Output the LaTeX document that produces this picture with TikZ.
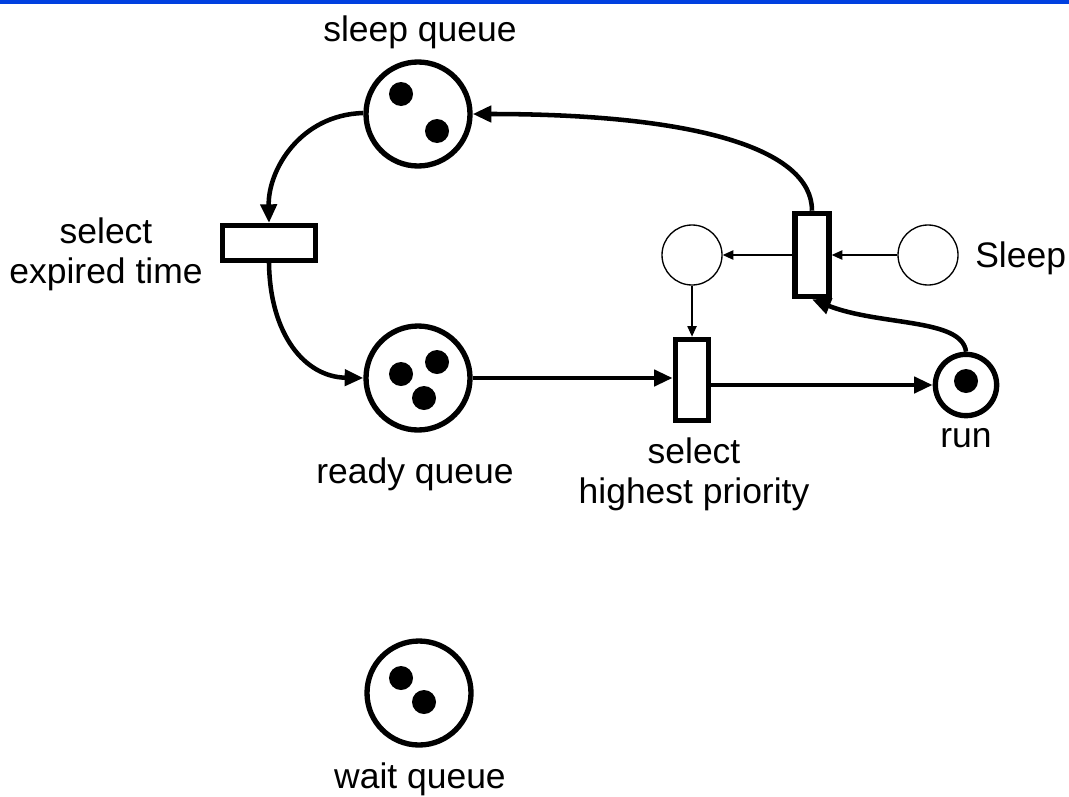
\documentclass[tikz,border=0pt]{standalone}
\usepackage{fontspec}
\setmainfont{Liberation Sans}
\usetikzlibrary{arrows.meta}
\definecolor{topblue}{RGB}{0,64,224}
\begin{document}
\begin{tikzpicture}[x=0.75pt,y=-0.75pt,
  place/.style={circle,draw,line width=4pt,minimum size=78pt,inner sep=0pt},
  smallplace/.style={circle,draw,line width=1pt,minimum size=45pt,inner sep=0pt},
  runplace/.style={circle,draw,line width=4pt,minimum size=46pt,inner sep=0pt},
  token/.style={circle,fill,minimum size=18pt,inner sep=0pt},
  trans/.style={rectangle,draw,line width=4pt,inner sep=0pt},
  lbl/.style={font=\fontsize{26.6pt}{30pt}\selectfont,align=center,inner sep=0pt},
  thick arc/.style={line width=3.4pt,-{Triangle[length=14pt,width=12pt]}},
  thin arc/.style={line width=1pt,-{Triangle[length=8pt,width=7pt]}}
]
\useasboundingbox (0,0) rectangle (1069,796);
\fill[topblue] (0,0) rectangle (1069,3.5);

% places
\node[place] (sq) at (418,114) {};
\node[token] (sq1) at (401,94) {};
\node[token] (sq2) at (437,131) {};
\node[place] (rq) at (418,378) {};
\node[token] (rq1) at (401,374) {};
\node[token] (rq2) at (437,362) {};
\node[token] (rq3) at (424,398) {};
\node[place] (wq) at (419,693) {};
\node[token] (wq1) at (401,678) {};
\node[token] (wq2) at (424,702) {};
\node[runplace] (run) at (966,385) {};
\node[token] (run1) at (966,381) {};
\node[smallplace] (sp) at (692,255) {};
\node[smallplace] (sl) at (928,255) {};

% transitions
\node[trans,minimum width=70pt,minimum height=26pt] (te) at (269,243) {};
\node[trans,minimum width=25pt,minimum height=61pt] (th) at (692,380) {};
\node[trans,minimum width=25.5pt,minimum height=62.5pt] (ts) at (812,255) {};

% labels
\node[lbl] (lsq) at (420,32) {sleep queue};
\node[lbl] (lte) at (106,254) {select\\expired time};
\node[lbl] (lrq) at (415,474) {ready queue};
\node[lbl] (lth) at (694,474) {select\\highest priority};
\node[lbl] (lrun) at (966,438) {run};
\node[lbl] (lwq) at (420,779) {wait queue};
\node[lbl,anchor=west] (lsl) at (975,258) {Sleep};

% arcs
\coordinate (a1) at (363,113);
\draw[thick arc] (a1) .. controls (300,115) and (268,170) .. (te.north);
\draw[thick arc] (te.south) .. controls (270,335) and (305,377) .. (rq.west);
\draw[thick arc] (rq.east) -- (rq.east -| th.west);
\draw[thick arc] (th.east |- run.west) -- (run.west);
\draw[thick arc] (ts.north) .. controls (812,150) and (700,114) .. (sq.east);
\draw[thick arc] (run.north) .. controls (962,318) and (880,326) .. (ts.south);
\draw[thin arc] (sl.west) -- (ts.east);
\draw[thin arc] (ts.west) -- (sp.east);
\draw[thin arc] (sp.south) -- (th.north);
\end{tikzpicture}
\end{document}
